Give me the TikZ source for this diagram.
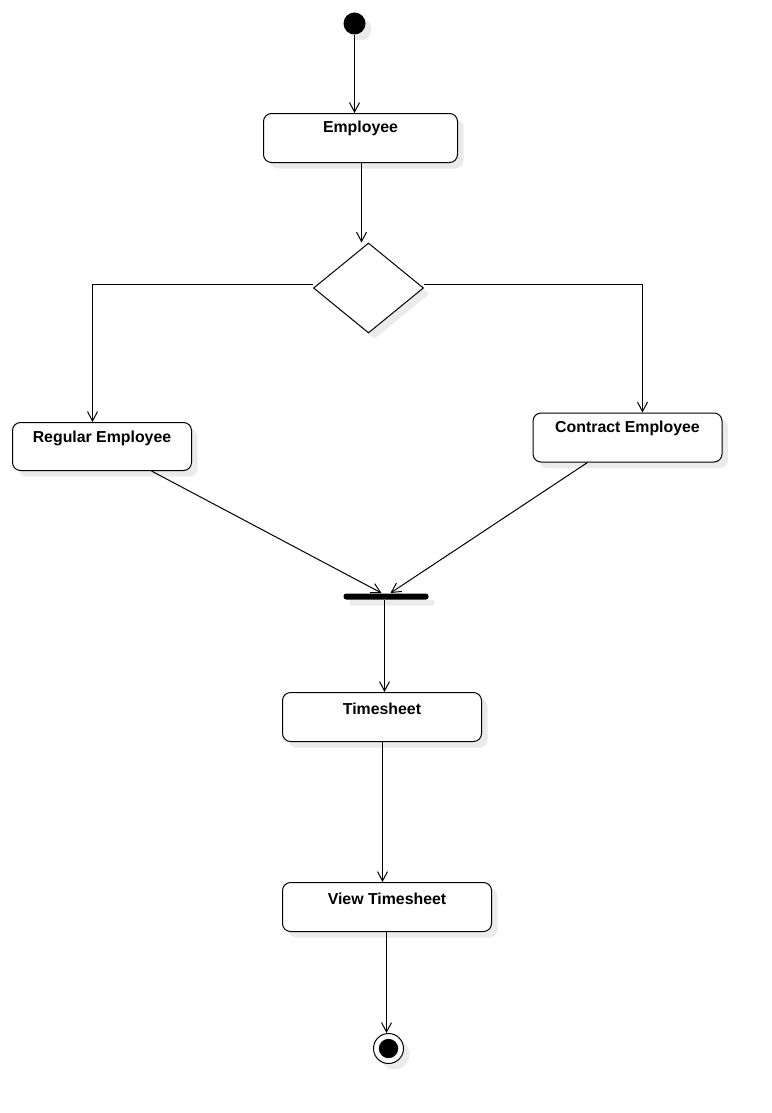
\documentclass[tikz,border=0pt]{standalone}
\usepackage{fontspec}
\setmainfont{Liberation Sans}
\usetikzlibrary{shapes.geometric,arrows.meta,shadows,calc}
\begin{document}
\begin{tikzpicture}[x=0.75pt,y=-0.75pt,
  line width=0.75pt,
  shd/.style={drop shadow={shadow xshift=4.5pt,shadow yshift=-4.5pt,fill=black,opacity=0.08}},
  actbox/.style={draw=black,fill=white,rounded corners=6pt,inner sep=0pt,shd},
  lbl/.style={inner sep=0pt,font=\fontsize{11.9pt}{13pt}\selectfont\bfseries},
  arr/.style={draw=black,-{Straight Barb[length=7pt,width=7.5pt,line width=0.75pt]}}
]
\useasboundingbox[fill=white] (0,0) rectangle (771,1113);
\begin{scope}[shift={(0.5,0.5)}]
% start
\node[circle,fill=black,minimum size=16.5pt,inner sep=0pt,shd] (start) at (354,23) {};

% Employee
\node[actbox,minimum width=145.5pt,minimum height=36.75pt] (emp) at (360,137.5) {};
\node[lbl] (empt) at (360,128) {Employee};

% decision
\node[diamond,draw=black,fill=white,inner sep=0pt,aspect=1.22,minimum width=82.5pt,minimum height=67.5pt,shd] (dec) at (368,287.5) {};

% Regular Employee
\node[actbox,minimum width=134.25pt,minimum height=36pt] (reg) at (101.5,446) {};
\node[lbl] (regt) at (101.5,438) {Regular Employee};

% Contract Employee
\node[actbox,minimum width=141.75pt,minimum height=36.75pt] (con) at (627,437) {};
\node[lbl] (cont) at (627,428) {Contract Employee};

% join bar
\node[rectangle,fill=black,rounded corners=2pt,minimum width=63.75pt,minimum height=4.5pt,inner sep=0pt,shd] (bar) at (385.5,596) {};

% Timesheet
\node[actbox,minimum width=149.25pt,minimum height=36.75pt] (ts) at (381.5,716.5) {};
\node[lbl] (tst) at (381.5,708) {Timesheet};

% View Timesheet
\node[actbox,minimum width=156.75pt,minimum height=36.75pt] (vts) at (386.5,906.5) {};
\node[lbl] (vtst) at (386.5,898) {View Timesheet};

% final
\node[circle,draw=black,fill=white,minimum size=22.5pt,inner sep=0pt,shd] (fin) at (388,1048) {};
\node[circle,fill=black,minimum size=14.5pt,inner sep=0pt] (fini) at (388,1048) {};

% connectors
\draw[arr] (start.south) -- (start.south |- emp.north);
\draw[arr] ($(emp.south)+(1,0)$) -- ($(emp.south |- dec.north)+(1,0)$);
\coordinate (dl) at ($(dec.west)+(0,-3.5)$);
\coordinate (dr) at ($(dec.east)+(0,-3.5)$);
\draw[arr] (dl) -| ($(reg.north)+(-9.5,0)$);
\draw[arr] (dr) -| ($(con.north)+(15,0)$);
\draw[arr] ($(reg.south)+(49.5,0)$) -- ($(bar.north)+(-4.5,0)$);
\draw[arr] ($(con.south)+(-40,0)$) -- ($(bar.north)+(4.5,0)$);
\draw[arr] ($(bar.south)+(-1.5,0)$) -- ($(bar.south |- ts.north)+(-1.5,0)$);
\draw[arr] ($(ts.south)+(0.5,0)$) -- ($(ts.south |- vts.north)+(0.5,0)$);
\draw[arr] ($(vts.south)+(-0.5,0)$) -- ($(vts.south |- fin.north)+(-0.5,0)$);
\end{scope}
\end{tikzpicture}
\end{document}
